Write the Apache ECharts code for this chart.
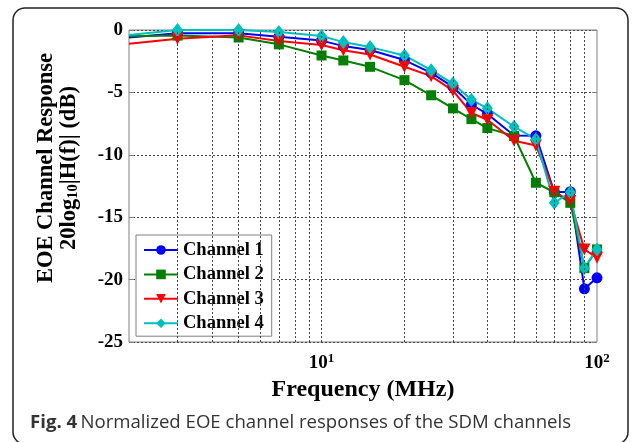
<!DOCTYPE html>
<html>
<head>
<meta charset="utf-8">
<script src="https://cdn.jsdelivr.net/npm/echarts@6/dist/echarts.min.js"></script>
<style>
  html, body { margin: 0; padding: 0; background: #fff; }
  #main { width: 634px; height: 442px; }
</style>
</head>
<body>
<div id="main"></div>
<script>
// frequencies (MHz), first point is the left edge of the plot (no marker there)
const freqs = [2, 3, 5, 7, 10, 12, 15, 20, 25, 30, 35, 40, 50, 60, 70, 80, 90, 100];
const channel1 = [-0.6, -0.27, -0.27, -0.55, -0.85, -1.29, -1.6, -2.41, -3.43, -4.56, -5.98, -6.73, -8.45, -8.48, -13.0, -12.96, -20.74, -19.86];
const channel2 = [-0.5, -0.45, -0.6, -1.15, -2.04, -2.44, -2.95, -4.02, -5.23, -6.28, -7.14, -7.86, -8.5, -12.24, -13.0, -13.85, -19.08, -17.58];
const channel3 = [-1.1, -0.7, -0.43, -0.88, -1.2, -1.63, -1.96, -2.95, -3.7, -4.86, -6.65, -7.19, -8.88, -9.25, -12.96, -13.7, -17.58, -18.25];
const channel4 = [-0.4, 0.0, 0.0, -0.16, -0.48, -0.97, -1.37, -2.04, -3.22, -4.29, -5.58, -6.28, -7.75, -8.75, -13.85, -13.0, -19.08, -17.58];
const gridFreqs = [3, 4, 5, 6, 7, 8, 9, 10, 20, 30, 40, 50, 60, 70, 80, 90];
const names = ['Channel 1', 'Channel 2', 'Channel 3', 'Channel 4'];

const serif = '"Liberation Serif", "Times New Roman", serif';

let myChart = echarts.init(document.getElementById('main'));

// build [x, y] pairs, first one without marker
function toData(vals) {
    return vals.map(function (v, i) {
        if (i === 0) {
            return { value: [freqs[i], v], symbol: 'none' };
        }
        return [freqs[i], v];
    });
}

function makeSeries(name, vals, color, symbol, size, rotate) {
    return {
        name: name,
        type: 'line',
        data: toData(vals),
        symbol: symbol,
        symbolSize: size,
        symbolRotate: rotate || 0,
        color: color,
        lineStyle: { width: 2, color: color },
        itemStyle: { color: color },
        z: 3
    };
}

let option = {
    backgroundColor: '#fff',
    animation: false,
    grid: {
        left: 129, right: 37, top: 30, bottom: 100,
        show: true,
        borderColor: '#808080',
        borderWidth: 1
    },
    graphic: [
        {
            type: 'rect',
            shape: { x: 13, y: 8, width: 615, height: 436, r: 12 },
            style: { fill: 'none', stroke: '#222', lineWidth: 1.5 },
            silent: true
        },
        {
            type: 'text',
            left: 30, top: 413,
            style: {
                text: '{b|Fig. 4} {n|Normalized EOE channel responses of the SDM channels}',
                rich: {
                    b: { fontFamily: '"Open Sans", "Noto Sans", sans-serif', fontWeight: 'bold', fontSize: 18.6, fill: '#333' },
                    n: { fontFamily: '"Open Sans", "Noto Sans", sans-serif', fontSize: 18.6, fill: '#333' }
                }
            }
        }
    ],
    legend: {
        data: names,
        orient: 'vertical',
        left: 136, top: 235,
        padding: [5, 8, 3, 7],
        backgroundColor: '#fff',
        borderColor: '#808080',
        borderWidth: 1,
        itemWidth: 34,
        itemHeight: 12,
        itemGap: 4.4,
        textStyle: { fontFamily: serif, fontWeight: 'bold', fontSize: 18.5, color: '#000', lineHeight: 20 }
    },
    xAxis: {
        type: 'log',
        logBase: 10,
        min: 2,
        max: 100,
        name: 'Frequency (MHz)',
        nameLocation: 'middle',
        nameGap: 31,
        nameTextStyle: { fontFamily: serif, fontWeight: 'bold', fontSize: 24, color: '#000' },
        axisLine: { show: false },
        axisTick: { show: false },
        splitLine: { show: false },
        axisLabel: {
            margin: 10,
            formatter: function (v) {
                if (Math.abs(v - 10) < 1e-6) return '{b|10}{s|1}';
                if (Math.abs(v - 100) < 1e-6) return '{b|10}{s|2}';
                return '';
            },
            rich: {
                b: { fontFamily: serif, fontWeight: 'bold', fontSize: 19, color: '#000', lineHeight: 22 },
                s: { fontFamily: serif, fontWeight: 'bold', fontSize: 13, color: '#000', lineHeight: 2, verticalAlign: 'top' }
            }
        }
    },
    yAxis: [
        {
            type: 'value',
            min: -25,
            max: 0,
            interval: 5,
            name: '{t|EOE Channel Response}\n{t|20log}{s|10}{t||H(f)| (dB)}',
            nameLocation: 'middle',
            nameGap: 48,
            nameTextStyle: {
                padding: [0, 0, 0, 36],
                rich: {
                    t: { fontFamily: serif, fontWeight: 'bold', fontSize: 22.5, color: '#000', lineHeight: 23 },
                    s: { fontFamily: serif, fontWeight: 'bold', fontSize: 14.5, color: '#000', lineHeight: 8, verticalAlign: 'bottom' }
                }
            },
            axisLine: { show: false },
            axisTick: { show: true, inside: true, length: 5, lineStyle: { color: '#808080' } },
            splitLine: { show: true, lineStyle: { color: '#444', type: [2, 2], width: 1 } },
            axisLabel: { fontFamily: serif, fontWeight: 'bold', fontSize: 19, color: '#000', margin: 6 }
        },
        {
            // right side tick marks only
            type: 'value',
            position: 'right',
            min: -25,
            max: 0,
            interval: 5,
            axisLine: { show: false },
            axisTick: { show: true, inside: true, length: 5, lineStyle: { color: '#808080' } },
            splitLine: { show: false },
            axisLabel: { show: false }
        }
    ],
    series: [
        {
            // vertical dotted grid at the log decade subdivisions
            name: 'grid',
            type: 'line',
            data: [],
            silent: true,
            z: 1,
            markLine: {
                silent: true,
                symbol: 'none',
                label: { show: false },
                lineStyle: { color: '#444', type: [2, 2], width: 1 },
                data: gridFreqs.map(function (f) { return { xAxis: f }; })
            }
        },
        makeSeries(names[0], channel1, '#0000ff', 'circle', 11),
        makeSeries(names[1], channel2, '#008000', 'rect', 10),
        makeSeries(names[2], channel3, '#ff0000', 'triangle', 12, 180),
        makeSeries(names[3], channel4, '#00bfbf', 'diamond', [11, 14])
    ]
};

myChart.setOption(option);
</script>
</body>
</html>
